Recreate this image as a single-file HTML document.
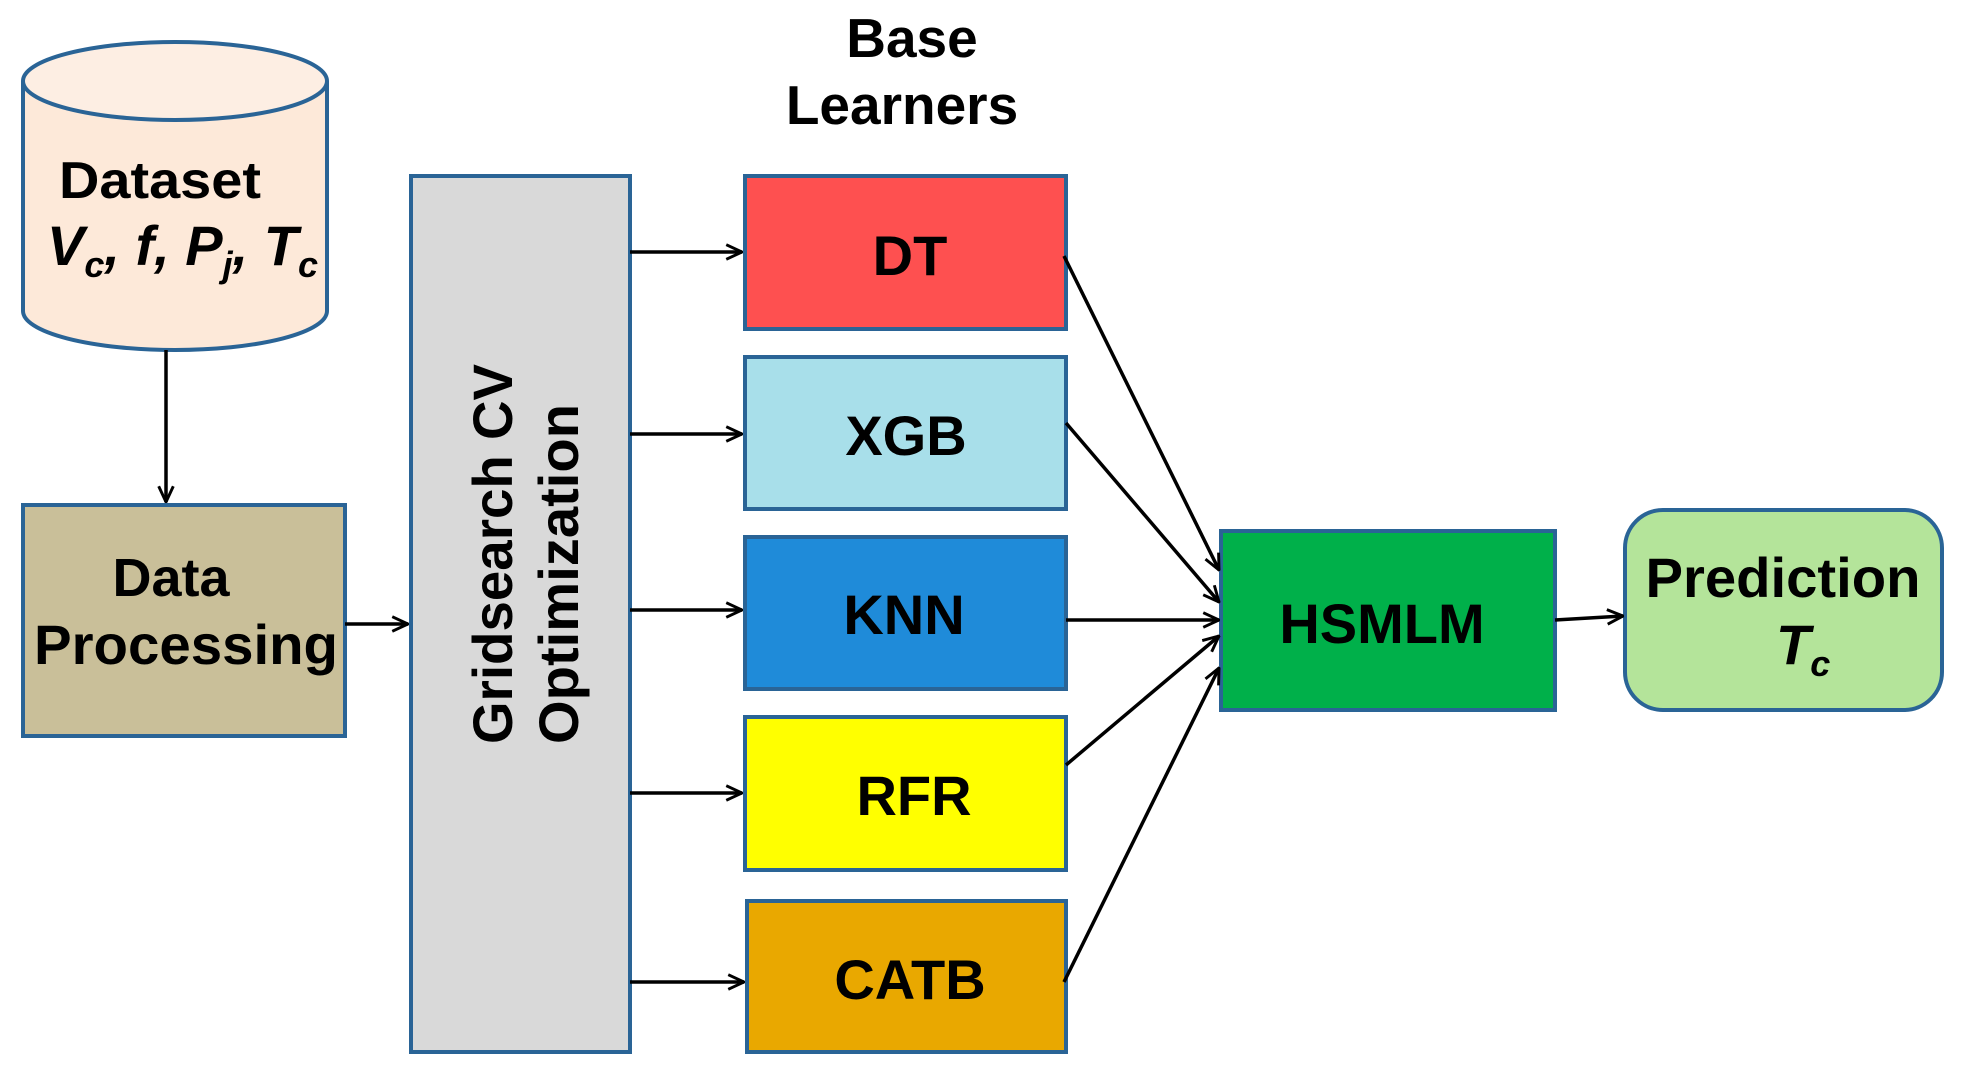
<!DOCTYPE html>
<html><head><meta charset="utf-8"><style>html,body{margin:0;padding:0;background:#fff}svg{display:block}</style></head>
<body>
<svg width="1966" height="1075" viewBox="0 0 1966 1075" xmlns="http://www.w3.org/2000/svg" font-family="Liberation Sans, Arial, sans-serif" font-weight="bold">
<defs>
<marker id="a" viewBox="0 0 16 16" refX="15" refY="8" markerWidth="18" markerHeight="18" markerUnits="userSpaceOnUse" orient="auto"><path d="M1,1.5 L15,8 L1,14.5" fill="none" stroke="#000" stroke-width="2.6"/></marker>
</defs>
<g stroke="#2a6496" stroke-width="4">
<path d="M23,81 L23,311 A152,39 0 0 0 327,311 L327,81" fill="#fde9d9"/>
<ellipse cx="175" cy="81" rx="152" ry="39" fill="#fdeee3"/>
<rect x="23" y="505" width="322" height="231" fill="#c9bf99"/>
<rect x="411" y="176" width="219" height="876" fill="#d9d9d9"/>
<rect x="745" y="176" width="321" height="153" fill="#fe5050"/>
<rect x="745" y="357" width="321" height="152" fill="#a8dfea"/>
<rect x="745" y="537" width="321" height="152" fill="#1f8bd9"/>
<rect x="745" y="717" width="321" height="153" fill="#ffff00"/>
<rect x="747" y="901" width="319" height="151" fill="#e9a800"/>
<rect x="1221" y="531" width="334" height="179" fill="#00b04a"/>
<rect x="1625" y="510" width="317" height="200" rx="38" fill="#b4e49a"/>
</g>
<g stroke="#000" stroke-width="3.5" fill="none" marker-end="url(#a)">
<line x1="166" y1="350" x2="166" y2="502"/>
<line x1="345" y1="624" x2="408" y2="624"/>
<line x1="630" y1="252" x2="742" y2="252"/>
<line x1="630" y1="434" x2="742" y2="434"/>
<line x1="630" y1="610" x2="742" y2="610"/>
<line x1="630" y1="793" x2="742" y2="793"/>
<line x1="630" y1="982" x2="744" y2="982"/>
<line x1="1064" y1="256" x2="1219" y2="570"/>
<line x1="1066" y1="423" x2="1219" y2="602"/>
<line x1="1066" y1="620" x2="1219" y2="620"/>
<line x1="1066" y1="765" x2="1219" y2="636"/>
<line x1="1064" y1="982" x2="1219" y2="668"/>
<line x1="1555" y1="620" x2="1623" y2="616"/>
</g>
<g fill="#000">
<text x="59" y="198" font-size="52" textLength="202" lengthAdjust="spacingAndGlyphs">Dataset</text>
<text x="47" y="265" font-size="56" font-style="italic">V<tspan font-size="36" dy="12">c</tspan><tspan dy="-12">, f, P</tspan><tspan font-size="36" dy="12">j</tspan><tspan dy="-12">, T</tspan><tspan font-size="36" dy="12">c</tspan></text>
<text x="171" y="596" font-size="54" text-anchor="middle">Data</text>
<text x="186" y="664" font-size="56" text-anchor="middle" textLength="304" lengthAdjust="spacingAndGlyphs">Processing</text>
<g transform="rotate(-90)">
<text x="-744" y="512" font-size="56" textLength="380" lengthAdjust="spacingAndGlyphs">Gridsearch CV</text>
<text x="-744" y="578" font-size="56" textLength="340" lengthAdjust="spacingAndGlyphs">Optimization</text>
</g>
<text x="912" y="57" font-size="55" text-anchor="middle">Base</text>
<text x="902" y="124" font-size="55" text-anchor="middle">Learners</text>
<text x="910" y="275" font-size="56" text-anchor="middle">DT</text>
<text x="906" y="455" font-size="56" text-anchor="middle">XGB</text>
<text x="904" y="634" font-size="56" text-anchor="middle">KNN</text>
<text x="914" y="815" font-size="56" text-anchor="middle">RFR</text>
<text x="910" y="999" font-size="56" text-anchor="middle">CATB</text>
<text x="1382" y="643" font-size="56" text-anchor="middle">HSMLM</text>
<text x="1783" y="597" font-size="56" text-anchor="middle" textLength="275" lengthAdjust="spacingAndGlyphs">Prediction</text>
<text x="1776" y="664" font-size="56" font-style="italic">T<tspan font-size="36" dy="12">c</tspan></text>
</g>
</svg>
</body></html>
